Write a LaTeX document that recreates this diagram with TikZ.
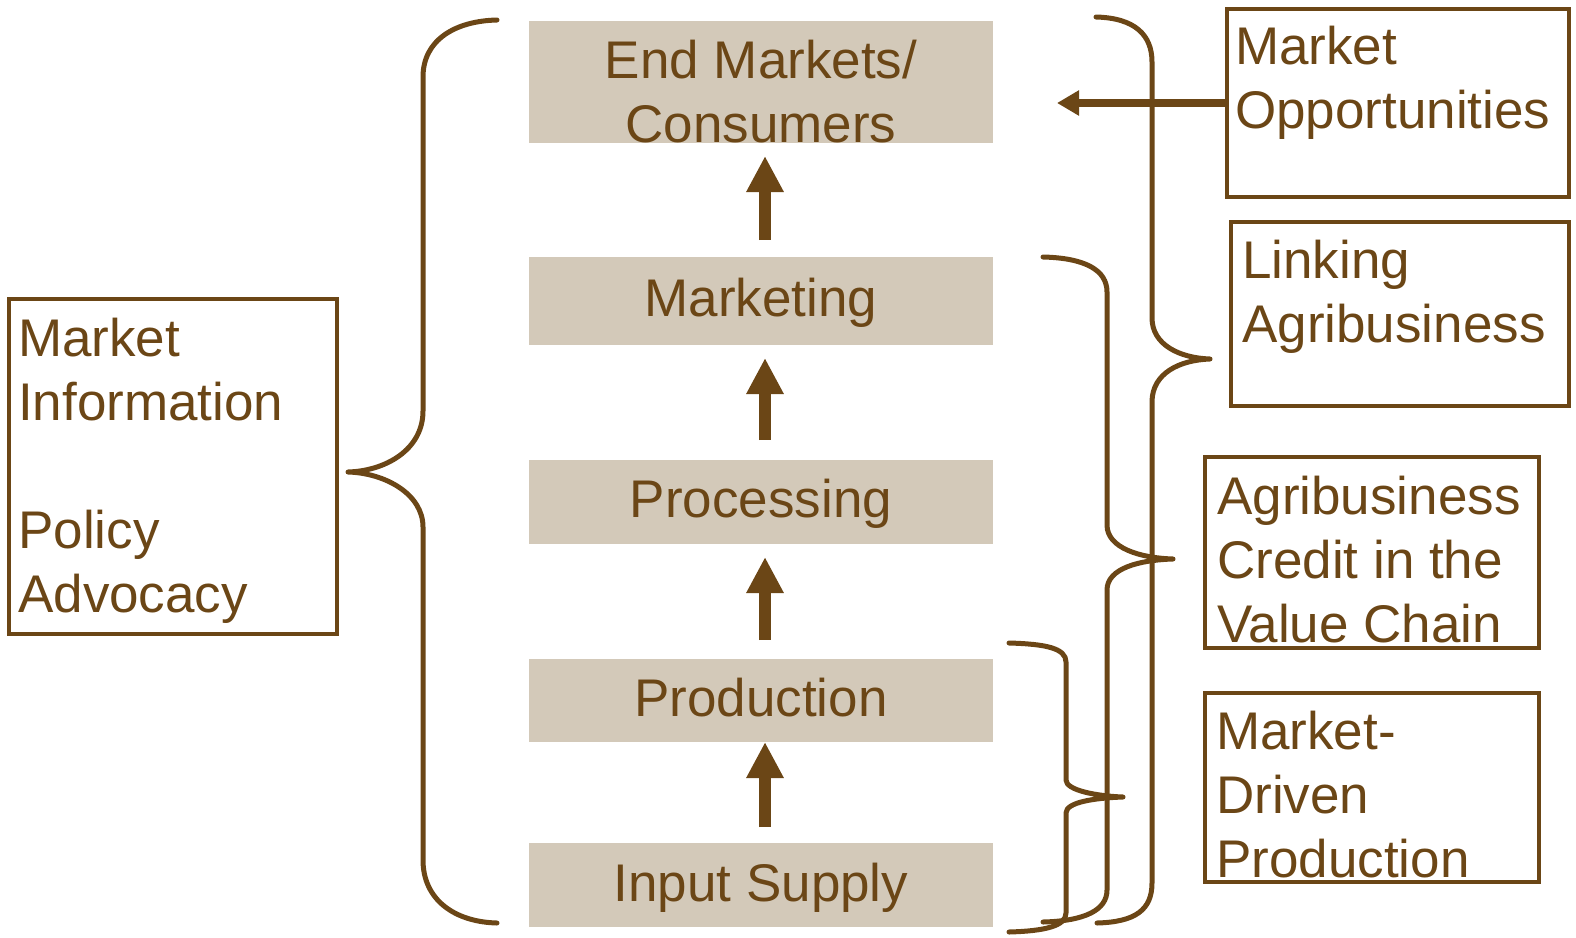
\documentclass[tikz,border=0pt]{standalone}
\usepackage{fontspec}
\setmainfont{Liberation Sans}
\usetikzlibrary{arrows.meta}
\definecolor{brownc}{HTML}{6B4616}
\definecolor{stagefill}{HTML}{D3C9B9}
\begin{document}
\begin{tikzpicture}[x=1pt,y=-1pt,
  stage/.style={fill=stagefill, draw=none, minimum width=464pt, inner sep=0pt, outer sep=0pt},
  framebox/.style={draw=brownc, line width=4pt, inner sep=0pt, outer sep=0pt},
  lbl/.style={text=brownc, font=\fontsize{53}{64}\selectfont, inner sep=0pt, anchor=base west, align=left},
  clbl/.style={text=brownc, font=\fontsize{53}{64}\selectfont, inner sep=0pt, anchor=base, align=center},
  brace/.style={draw=brownc, line width=5pt, line cap=round, line join=round},
  flow/.style={draw=brownc, line width=12pt, -{Triangle[length=36pt,width=35pt]}},
  feed/.style={draw=brownc, line width=8pt, -{Triangle[length=22pt,width=24pt]}}]
\path[use as bounding box] (0,0) rectangle (1576,937);

% value chain stages
\node[stage, minimum height=122pt] (em) at (761,82) {};
\node[stage, minimum height=88pt] (mk) at (761,301) {};
\node[stage, minimum height=84pt] (pr) at (761,502) {};
\node[stage, minimum height=83pt] (pd) at (761,700.5) {};
\node[stage, minimum height=84pt] (is) at (761,885) {};

% (multi-line labels are anchored at the baseline of their last line)
\node[clbl] (emt) at (761,142) {End Markets/\\Consumers};
\node[clbl] (mkt) at (761,316) {Marketing};
\node[clbl] (prt) at (761,517) {Processing};
\node[clbl] (pdt) at (761,716) {Production};
\node[clbl] (ist) at (761,901) {Input Supply};

% upward arrows
\coordinate (a1b) at (765,240); \coordinate (a1t) at (765,156);
\coordinate (a2b) at (765,440); \coordinate (a2t) at (765,358);
\coordinate (a3b) at (765,640); \coordinate (a3t) at (765,557);
\coordinate (a4b) at (765,827); \coordinate (a4t) at (765,742);
\draw[flow] (a1b) -- (a1t);
\draw[flow] (a2b) -- (a2t);
\draw[flow] (a3b) -- (a3t);
\draw[flow] (a4b) -- (a4t);

% left box
\node[framebox, minimum width=327.5pt, minimum height=335pt] (lb) at (173,466) {};
\node[lbl] (lbt) at (18,612) {Market\\Information\\[64pt]Policy\\Advocacy};

% right boxes
\node[framebox, minimum width=342.5pt, minimum height=188.4pt] (mo) at (1398,103) {};
\node[lbl] (mot) at (1235,128) {Market\\Opportunities};
\node[framebox, minimum width=337.9pt, minimum height=184.3pt] (la) at (1400.2,314.2) {};
\node[lbl] (lat) at (1242,342) {Linking\\Agribusiness};
\node[framebox, minimum width=333.4pt, minimum height=190.8pt] (ac) at (1372,552.6) {};
\node[lbl] (act) at (1217,642) {Agribusiness\\Credit in the\\Value Chain};
\node[framebox, minimum width=333.4pt, minimum height=189.4pt] (md) at (1372,787.5) {};
\node[lbl] (mdt) at (1216,877) {Market-\\Driven\\Production};

% braces
\draw[brace] (497,20) .. controls (455,21) and (423,40) .. (423,77) -- (423,411)
  .. controls (423,450) and (385,471) .. (348,472)
  .. controls (385,473) and (423,494) .. (423,527) -- (423,860)
  .. controls (423,900) and (455,922) .. (497,923);
\draw[brace] (1096,17) .. controls (1135,18) and (1152,35) .. (1152,62) -- (1152,318)
  .. controls (1152,345) and (1180,358) .. (1210,359)
  .. controls (1180,360) and (1152,373) .. (1152,402) -- (1152,883)
  .. controls (1152,910) and (1135,922) .. (1097,923);
\draw[brace] (1043,257) .. controls (1085,258) and (1107,270) .. (1107,292) -- (1107,525)
  .. controls (1107,548) and (1140,558) .. (1173,559)
  .. controls (1140,560) and (1107,568) .. (1107,590) -- (1107,890)
  .. controls (1107,910) and (1085,921) .. (1043,922);
\draw[brace] (1009,643) .. controls (1045,644) and (1066,648) .. (1066,662) -- (1066,780)
  .. controls (1066,790) and (1095,796) .. (1123,797)
  .. controls (1095,798) and (1066,802) .. (1066,813) -- (1066,913)
  .. controls (1066,926) and (1045,931) .. (1009,932);

% market opportunities feedback arrow
\coordinate (motip) at (1057,0);
\draw[feed] (mo.west) -- (mo.west -| motip);
\end{tikzpicture}
\end{document}
